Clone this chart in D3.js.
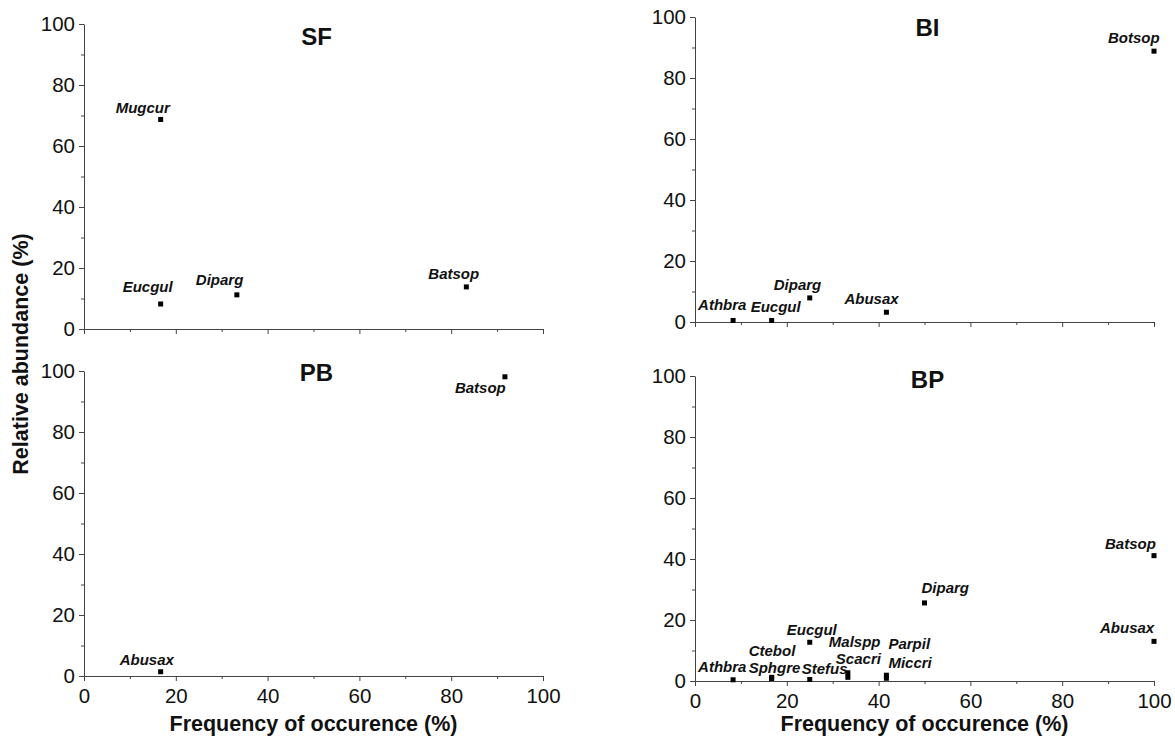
<!DOCTYPE html>
<html>
<head>
<meta charset="utf-8">
<script src="https://cdn.jsdelivr.net/npm/d3@7"></script>
<style>
  body { margin: 0; background: white; }
  svg { display: block; font-family: "Liberation Sans", Arial, sans-serif; }
</style>
</head>
<body>
<svg id="chart" width="1175" height="744"></svg>
<script>
// Data per site: species code, frequency of occurrence (%), relative abundance (%)
const sfNames = ["Mugcur", "Eucgul", "Diparg", "Batsop"];
const sfFreq  = [16.7, 16.7, 33.3, 83.3];
const sfAbund = [68.7, 8.2, 11.2, 13.8];

const biNames = ["Athbra", "Eucgul", "Diparg", "Abusax", "Botsop"];
const biFreq  = [8.3, 16.7, 25, 41.7, 100];
const biAbund = [0.5, 0.5, 7.9, 3.2, 88.8];

const pbNames = ["Abusax", "Batsop"];
const pbFreq  = [16.7, 91.7];
const pbAbund = [1.4, 98.1];

const bpNames = ["Athbra", "Ctebol", "Sphgre", "Eucgul", "Stefus", "Malspp", "Scacri", "Parpil", "Miccri", "Diparg", "Batsop", "Abusax"];
const bpFreq  = [8.3, 16.7, 16.7, 25, 25, 33.3, 33.3, 41.7, 41.7, 50, 100, 100];
const bpAbund = [0.4, 1.2, 0.8, 12.7, 0.5, 2.7, 1.2, 1.9, 0.9, 25.6, 41.1, 13.0];

const ticks = [0, 20, 40, 60, 80, 100];
const minorTicks = [10, 30, 50, 70, 90];

// Label placement (offset of label start / baseline from the marker, px)
const sfLabelOff = [[-45, -6], [-38, -12], [-41, -10], [-38, -8]];
const biLabelOff = [[-35, -10], [-21, -8], [-36, -8], [-42, -8], [-46, -8]];
const pbLabelOff = [[-41, -7], [-50, 16]];
const bpLabelOff = [[-35, -8], [-23, -21], [-23, -6], [-23, -7], [-8, -5], [-19, -26],
                    [-12, -13], [2, -26], [2, -10], [-3, -10], [-49, -7], [-54, -8]];

const panels = [
  { title: "SF", names: sfNames, freq: sfFreq, abund: sfAbund, off: sfLabelOff,
    x0: 84, x1: 543, y0: 329, y1: 24, titleY: 45, xLabels: false },
  { title: "BI", names: biNames, freq: biFreq, abund: biAbund, off: biLabelOff,
    x0: 695, x1: 1154, y0: 322, y1: 17, titleY: 36, xLabels: false },
  { title: "PB", names: pbNames, freq: pbFreq, abund: pbAbund, off: pbLabelOff,
    x0: 84, x1: 543, y0: 676, y1: 371, titleY: 381, xLabels: true },
  { title: "BP", names: bpNames, freq: bpFreq, abund: bpAbund, off: bpLabelOff,
    x0: 695, x1: 1154, y0: 681, y1: 376, titleY: 388, xLabels: true }
];

const svg = d3.select("#chart");
const axisColor = "#444";

panels.forEach(p => {
  const x = d3.scaleLinear().domain([0, 100]).range([p.x0, p.x1]);
  const y = d3.scaleLinear().domain([0, 100]).range([p.y0, p.y1]);
  const g = svg.append("g");

  // minor ticks first, then major axes
  g.append("g").attr("transform", `translate(0,${p.y0})`)
    .call(d3.axisBottom(x).tickValues(minorTicks).tickSize(3).tickFormat(""))
    .call(a => a.select(".domain").remove());
  g.append("g").attr("transform", `translate(${p.x0},0)`)
    .call(d3.axisLeft(y).tickValues(minorTicks).tickSize(3).tickFormat(""))
    .call(a => a.select(".domain").remove());

  g.append("g").attr("transform", `translate(0,${p.y0})`)
    .call(d3.axisBottom(x).tickValues(ticks).tickSizeInner(5).tickSizeOuter(0).tickPadding(7)
      .tickFormat(p.xLabels ? d3.format("d") : ""));
  g.append("g").attr("transform", `translate(${p.x0},0)`)
    .call(d3.axisLeft(y).tickValues(ticks).tickSizeInner(5).tickSizeOuter(0).tickPadding(4));

  g.selectAll(".domain, .tick line").attr("stroke", axisColor).attr("stroke-width", 1);
  g.selectAll(".tick text").attr("font-size", 20.5).attr("fill", "#111")
    .attr("font-family", "'Liberation Sans', Arial, sans-serif");

  // panel title
  g.append("text")
    .attr("x", (p.x0 + p.x1) / 2 + 3)
    .attr("y", p.titleY)
    .attr("text-anchor", "middle")
    .attr("font-size", 24)
    .attr("font-weight", "bold")
    .attr("fill", "#111")
    .text(p.title);

  const pts = p.names.map((n, i) => ({ name: n, f: p.freq[i], a: p.abund[i], off: p.off[i] }));

  g.selectAll("rect.pt").data(pts).enter().append("rect")
    .attr("class", "pt")
    .attr("x", d => x(d.f) - 2.5)
    .attr("y", d => y(d.a) - 2.5)
    .attr("width", 5)
    .attr("height", 5)
    .attr("fill", "#000");

  g.selectAll("text.lbl").data(pts).enter().append("text")
    .attr("class", "lbl")
    .attr("x", d => x(d.f) + d.off[0])
    .attr("y", d => y(d.a) + d.off[1])
    .attr("font-size", 15)
    .attr("font-weight", "bold")
    .attr("font-style", "italic")
    .attr("fill", "#111")
    .text(d => d.name);

  if (p.xLabels) {
    g.append("text")
      .attr("x", (p.x0 + p.x1) / 2)
      .attr("y", 731)
      .attr("text-anchor", "middle")
      .attr("font-size", 21.5)
      .attr("font-weight", "bold")
      .attr("fill", "#111")
      .text("Frequency of occurence (%)");
  }
});

// shared y-axis title
svg.append("text")
  .attr("transform", "translate(28,354) rotate(-90)")
  .attr("text-anchor", "middle")
  .attr("font-size", 21.5)
  .attr("font-weight", "bold")
  .attr("fill", "#111")
  .text("Relative abundance (%)");
</script>
</body>
</html>
